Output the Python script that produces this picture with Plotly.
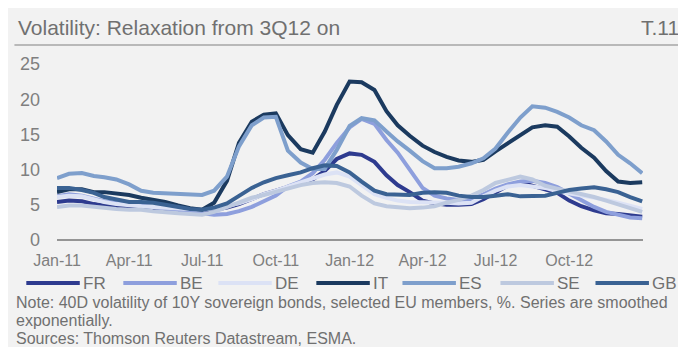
import plotly.graph_objects as go
from datetime import date

# semi-monthly observation dates (1st and 16th of each month), Jan-2011 .. Dec-2012
dates = []
for m in range(24):
    y, mo = 2011 + m // 12, m % 12 + 1
    dates.append(date(y, mo, 1).isoformat())
    dates.append(date(y, mo, 16).isoformat())
dates.append("2012-12-31")

FR = [5.4, 5.6, 5.5, 5.1, 4.9, 4.7, 4.6, 4.5, 4.4, 4.4,
      4.3, 4.3, 4.2, 4.3, 4.6, 5.1, 5.8, 6.5, 7.0, 7.6,
      8.1, 8.6, 9.8, 11.5, 12.3, 12.1, 11.1, 9.2, 7.8, 6.8,
      5.6, 5.2, 5.0, 5.0, 5.1, 5.8, 6.7, 7.7, 8.2, 7.7,
      7.3, 6.7, 5.6, 4.8, 4.2, 3.8, 3.7, 3.5, 3.3]
BE = [6.2, 6.5, 6.3, 5.8, 5.5, 5.3, 5.0, 4.9, 4.7, 4.5,
      4.3, 4.1, 3.8, 3.6, 3.7, 4.1, 4.7, 5.5, 6.3, 7.6,
      8.3, 9.5, 11.4, 13.8, 16.0, 17.2, 16.5, 14.2, 12.4, 10.0,
      7.4, 6.3, 5.9, 5.7, 5.8, 6.5, 7.3, 7.9, 8.3, 8.4,
      8.1, 7.5, 6.6, 5.6, 4.7, 4.0, 3.6, 3.2, 3.1]
DE = [6.1, 6.3, 6.2, 5.7, 5.4, 5.1, 4.9, 4.8, 4.7, 4.6,
      4.5, 4.4, 4.3, 4.5, 4.9, 5.2, 5.8, 6.5, 7.0, 7.6,
      8.2, 8.8, 9.3, 9.6, 9.0, 7.8, 6.5, 6.0, 5.6, 5.4,
      5.4, 5.4, 5.3, 5.2, 5.3, 6.2, 7.0, 7.6, 7.8, 7.6,
      7.4, 6.9, 6.6, 6.3, 6.1, 5.7, 5.3, 4.9, 4.4]
IT = [6.8, 7.2, 7.2, 6.8, 6.8, 6.6, 6.4, 6.0, 5.7, 5.4,
      4.9, 4.5, 4.3, 5.3, 8.4, 13.8, 16.8, 17.8, 18.0, 14.9,
      12.9, 12.4, 15.4, 19.2, 22.5, 22.4, 21.3, 18.3, 16.3, 14.8,
      13.4, 12.5, 11.8, 11.3, 11.1, 11.4, 12.6, 13.7, 14.8, 16.0,
      16.3, 16.1, 14.7, 13.1, 11.7, 9.8, 8.3, 8.1, 8.2]
ES = [8.8, 9.4, 9.5, 9.1, 8.9, 8.6, 7.9, 7.0, 6.7, 6.6,
      6.5, 6.4, 6.4, 7.0, 9.0, 13.3, 16.3, 17.4, 17.5, 12.7,
      11.0, 10.1, 10.1, 12.8, 16.2, 17.3, 17.0, 15.4, 14.0, 12.7,
      11.2, 10.2, 10.2, 10.4, 10.9, 11.6, 13.0, 15.2, 17.4, 19.0,
      18.8, 18.2, 17.4, 16.3, 15.6, 14.0, 12.1, 10.9, 9.5]
SE = [4.7, 4.9, 4.9, 4.7, 4.5, 4.4, 4.3, 4.3, 4.1, 3.9,
      3.8, 3.7, 3.6, 4.0, 4.7, 5.3, 6.0, 6.4, 6.9, 7.4,
      7.8, 8.1, 8.2, 8.1, 7.6, 6.3, 5.2, 4.8, 4.6, 4.5,
      4.6, 4.8, 5.3, 5.7, 6.3, 7.1, 8.1, 8.6, 9.0, 8.6,
      7.7, 7.3, 6.9, 6.6, 6.1, 5.6, 5.1, 4.5, 4.0]
GB = [7.4, 7.4, 7.1, 6.7, 6.1, 5.7, 5.4, 5.4, 5.3, 5.0,
      4.7, 4.4, 4.3, 4.6, 5.2, 6.3, 7.4, 8.2, 8.8, 9.2,
      9.6, 10.2, 10.6, 10.5, 9.6, 8.3, 7.0, 6.5, 6.4, 6.4,
      6.7, 6.8, 6.7, 6.3, 6.1, 6.1, 6.3, 6.5, 6.2, 6.2,
      6.3, 6.7, 7.1, 7.3, 7.5, 7.2, 6.8, 6.1, 5.5]

series_names = ["FR", "BE", "DE", "IT", "ES", "SE", "GB"]
series_values = [FR, BE, DE, IT, ES, SE, GB]
colors = ["#2E3B8F", "#8E9FDD", "#DCE2F5", "#1B3A5F", "#7E9FCC", "#BDC9DF", "#3A6293"]

tick_dates = ["2011-01-01", "2011-04-01", "2011-07-01", "2011-10-01",
              "2012-01-01", "2012-04-01", "2012-07-01", "2012-10-01"]
tick_labels = ["Jan-11", "Apr-11", "Jul-11", "Oct-11", "Jan-12", "Apr-12", "Jul-12", "Oct-12"]
y_ticks = [0, 5, 10, 15, 20, 25]

title_text = "Volatility: Relaxation from 3Q12 on"
chart_id = "T.11"
notes = ["Note: 40D volatility of 10Y sovereign bonds, selected EU members, %. Series are smoothed",
         "exponentially.",
         "Sources: Thomson Reuters Datastream, ESMA."]

# figure sits in the page with the browser's 8px body margin
OFF = 8
W, H = 678, 339
L, R, T, B = 43, 43, 56, 107
PW, PH = W - L - R, H - T - B
FONT = "Liberation Sans, Arial, sans-serif"
BG = "#F2F2F2"
TXT = "#707070"


def px(sx):
    return (sx - OFF - L) / PW


def py(sy):
    return (H - B - (sy - OFF)) / PH


fig = go.Figure()
for name, vals, col in zip(series_names, series_values, colors):
    fig.add_trace(go.Scatter(x=dates, y=vals, name=name, mode="lines",
                             line=dict(color=col, width=4), showlegend=False))

shapes = []
annotations = []

# title rule
shapes.append(dict(type="line", xref="paper", yref="paper", x0=px(8), x1=px(686), y0=py(45), y1=py(45),
                   line=dict(color="#A6A6A6", width=1.5)))
annotations.append(dict(text=title_text, xref="paper", yref="paper", x=px(10), y=py(27),
                        xanchor="left", yanchor="middle", showarrow=False,
                        font=dict(family=FONT, size=21, color=TXT)))
annotations.append(dict(text=chart_id, xref="paper", yref="paper", x=px(681), y=py(27),
                        xanchor="right", yanchor="middle", showarrow=False,
                        font=dict(family=FONT, size=21, color=TXT)))

# custom legend
leg_x = [20, 118, 214, 313, 400, 499, 595]
leg_y = 283
for name, col, lx in zip(series_names, colors, leg_x):
    shapes.append(dict(type="line", xref="paper", yref="paper", x0=px(lx), x1=px(lx + 54),
                       y0=py(leg_y), y1=py(leg_y), line=dict(color=col, width=4)))
    annotations.append(dict(text=name, xref="paper", yref="paper", x=px(lx + 55), y=py(leg_y),
                            xanchor="left", yanchor="middle", showarrow=False,
                            font=dict(family=FONT, size=17, color=TXT)))

for i, t in enumerate(notes):
    annotations.append(dict(text=t, xref="paper", yref="paper", x=px(8), y=py(302 + 18 * i),
                            xanchor="left", yanchor="middle", showarrow=False,
                            font=dict(family=FONT, size=16, color=TXT)))

fig.update_layout(
    width=W, height=H, autosize=False,
    margin=dict(l=L, r=R, t=T, b=B, pad=0),
    paper_bgcolor=BG, plot_bgcolor=BG,
    shapes=shapes, annotations=annotations,
    showlegend=False,
    xaxis=dict(type="date", range=["2011-01-01", "2013-01-01"], tickvals=tick_dates, ticktext=tick_labels,
               showgrid=False, zeroline=False, showline=False, ticks="",
               ticklabelstandoff=9,
               tickfont=dict(family=FONT, size=16, color="#7F7F7F")),
    yaxis=dict(range=[0, 25], tickvals=y_ticks, showgrid=False, zeroline=True,
               zerolinecolor="#959595", zerolinewidth=2, showline=False, ticks="",
               ticklabelstandoff=16,
               tickfont=dict(family=FONT, size=18, color="#7F7F7F")),
)

fig.write_html("out.html")
